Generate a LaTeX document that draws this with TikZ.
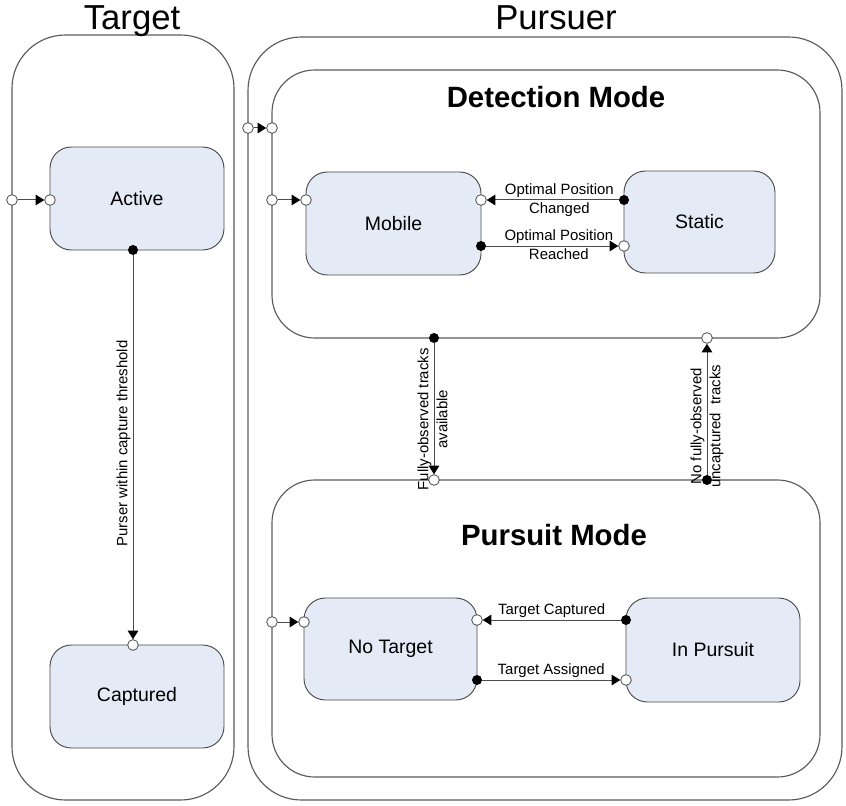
\documentclass[tikz,border=0pt]{standalone}
\usepackage{fontspec}
\setmainfont{Liberation Sans}
\usetikzlibrary{arrows.meta,calc}
\definecolor{statefill}{HTML}{E5EBF6}
\definecolor{edgegray}{HTML}{4A4A4A}
\definecolor{lanegray}{HTML}{5A5A5A}

\tikzset{
  sz/.style 2 args={minimum width=#1*0.75pt, minimum height=#2*0.75pt},
  lane/.style={draw=lanegray, line width=0.85pt, rounded corners=40pt, anchor=north west, inner sep=0pt, outer sep=0pt},
  mode/.style={draw=lanegray, line width=0.85pt, rounded corners=32pt, anchor=north west, inner sep=0pt, outer sep=0pt},
  state/.style={draw=edgegray, line width=0.7pt, fill=statefill, rounded corners=16pt, anchor=north west, outer sep=0pt,
    font=\fontsize{14.6}{17}\selectfont},
  opn/.style={circle, draw=edgegray, fill=white, line width=0.6pt, minimum size=8pt, inner sep=0pt},
  cls/.style={circle, fill=black, minimum size=7.5pt, inner sep=0pt},
  trans/.style={draw=edgegray, line width=0.75pt, -{Triangle[length=6.5pt,width=8pt,fill=black,color=black]}},
  lbl/.style={font=\fontsize{11.2}{13}\selectfont, inner sep=1.5pt},
  title/.style={font=\fontsize{26}{30}\selectfont, anchor=base},
  modetitle/.style={font=\bfseries\fontsize{22}{26}\selectfont, anchor=base}
}

\begin{document}
\begin{tikzpicture}[x=0.75pt,y=-0.75pt]
\useasboundingbox (0,0) rectangle (846,806);

% swimlanes
\node[lane, sz={222}{765}] (TargetLane) at (12,35) {};
\node[lane, sz={594}{763}] (PursuerLane) at (248,37) {};
\node[title] (TargetTitle) at (132,30) {Target};
\node[title] (PursuerTitle) at (556,30) {Pursuer};

% composite modes of the pursuer
\node[mode, sz={548}{268}] (Detection) at (272,70) {};
\node[mode, sz={548}{297}] (Pursuit) at (272,480) {};
\node[modetitle] (DetTitle) at (556,108) {Detection Mode};
\node[modetitle] (PurTitle) at (554,545) {Pursuit Mode};

% states
\node[state, sz={174}{103}] (Active) at (50,147) {};
\node[state, sz={174}{103}] (Captured) at (50,645) {};
\node[state, sz={175}{103}] (Mobile) at (306,172) {};
\node[state, sz={151}{102}] (Static) at (624,171) {};
\node[state, sz={173}{102}] (NoTarget) at (304,598) {};
\node[state, sz={174}{104}] (InPursuit) at (626,598) {};
\node[font=\fontsize{14.6}{17}\selectfont] at (Active.center) {Active};
\node[font=\fontsize{14.6}{17}\selectfont] at (Captured.center) {Captured};
\node[font=\fontsize{14.6}{17}\selectfont] at (Mobile.center) {Mobile};
\node[font=\fontsize{14.6}{17}\selectfont] at (Static.center) {Static};
\node[font=\fontsize{14.6}{17}\selectfont] at (NoTarget.center) {No Target};
\node[font=\fontsize{14.6}{17}\selectfont] at (InPursuit.center) {In Pursuit};

% initial transitions
\node[opn] (tIn) at (TargetLane.west |- 0,200) {};
\node[opn] (actIn) at (Active.west |- 0,200) {};
\draw[trans] (tIn) -- (actIn);

\node[opn] (pIn) at (PursuerLane.west |- 0,128) {};
\node[opn] (detIn) at (Detection.west |- 0,128) {};
\draw[trans] (pIn) -- (detIn);

\node[opn] (dIn) at (Detection.west |- 0,200) {};
\node[opn] (mobIn) at (Mobile.west |- 0,200) {};
\draw[trans] (dIn) -- (mobIn);

\node[opn] (puIn) at (Pursuit.west |- 0,622) {};
\node[opn] (ntIn) at (NoTarget.west |- 0,622) {};
\draw[trans] (puIn) -- (ntIn);

% target capture
\node[cls] (actOut) at (Active.south -| 133,0) {};
\node[opn] (capIn) at (Captured.north -| 133,0) {};
\draw[trans] (actOut) -- node[lbl, rotate=90, anchor=south, pos=0.49] {Purser within capture threshold} (capIn);

% detection mode transitions
\node[cls] (stOut) at (Static.west |- 0,200) {};
\node[opn] (mobBack) at (Mobile.east |- 0,200) {};
\draw[trans] (stOut) -- node[lbl, above, pos=0.45] {Optimal Position} node[lbl, below, pos=0.45] {Changed} (mobBack);

\node[cls] (mobOut) at (Mobile.east |- 0,246) {};
\node[opn] (stIn) at (Static.west |- 0,246) {};
\draw[trans] (mobOut) -- node[lbl, above, pos=0.55] {Optimal Position} node[lbl, below, pos=0.55] {Reached} (stIn);

% mode switching
\node[cls] (detOut) at (Detection.south -| 434,0) {};
\node[opn] (purIn) at (Pursuit.north -| 434,0) {};
\draw[trans] (detOut) -- node[lbl, rotate=90, anchor=south, pos=0.58] {Fully-observed tracks}
                          node[lbl, rotate=90, anchor=north, pos=0.58] {available} (purIn);

\node[cls] (purOut) at (Pursuit.north -| 707,0) {};
\node[opn] (detBack) at (Detection.south -| 707,0) {};
\draw[trans] (purOut) -- node[lbl, rotate=90, anchor=south, pos=0.37] {No fully-observed}
                          node[lbl, rotate=90, anchor=north, pos=0.37] {uncaptured\ \ tracks} (detBack);

% pursuit mode transitions
\node[cls] (ipOut) at (InPursuit.west |- 0,620) {};
\node[opn] (ntBack) at (NoTarget.east |- 0,620) {};
\draw[trans] (ipOut) -- node[lbl, above] {Target Captured} (ntBack);

\node[cls] (ntOut) at (NoTarget.east |- 0,680) {};
\node[opn] (ipIn) at (InPursuit.west |- 0,680) {};
\draw[trans] (ntOut) -- node[lbl, above] {Target Assigned} (ipIn);
\end{tikzpicture}
\end{document}
